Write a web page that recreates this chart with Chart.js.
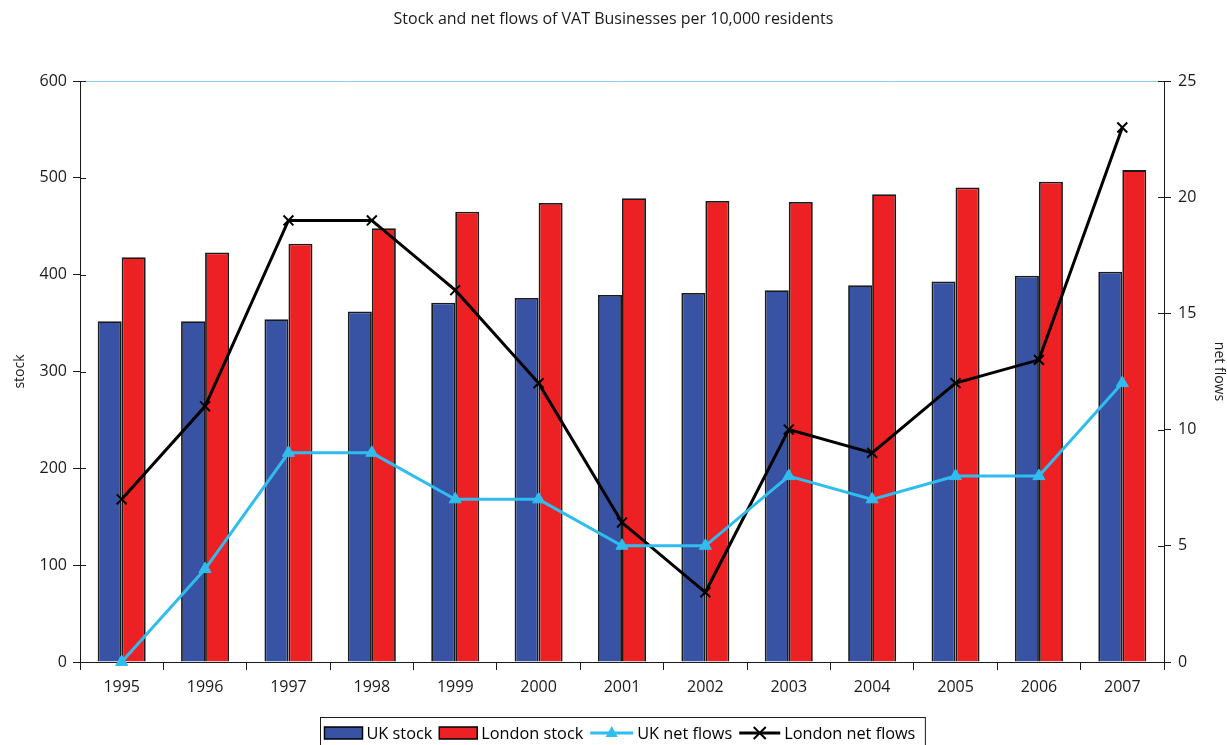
<!DOCTYPE html>
<html>
<head>
<meta charset="utf-8">
<script src="https://cdn.jsdelivr.net/npm/chart.js@4/dist/chart.umd.min.js"></script>
<style>
  html, body { margin: 0; padding: 0; background: #fff; }
  #wrap { width: 1227px; height: 745px; }
</style>
</head>
<body>
<div id="wrap"><canvas id="vat-chart"></canvas></div>
<script>
const years = ['1995', '1996', '1997', '1998', '1999', '2000', '2001', '2002', '2003', '2004', '2005', '2006', '2007'];
const ukStock = [352, 352, 354, 362, 371, 376, 379, 381, 384, 389, 393, 399, 403];
const londonStock = [418, 423, 432, 448, 465, 474, 479, 476, 475, 483, 490, 496, 508];
const ukNetFlows = [0, 4, 9, 9, 7, 7, 5, 5, 8, 7, 8, 8, 12];
const londonNetFlows = [7, 11, 19, 19, 16, 12, 6, 3, 10, 9, 12, 13, 23];

const BLUE = '#3953a4';
const RED = '#ed2024';
const CYAN = '#2fbdef';
const INK = '#1a1a1a';
const FONT = "'Open Sans', 'DejaVu Sans', sans-serif";

// tick marks that cross both value axes
const crossTicks = {
  id: 'crossTicks',
  afterDraw(chart) {
    const ctx = chart.ctx;
    ctx.save();
    ctx.strokeStyle = INK;
    ctx.lineWidth = 1;
    ['y', 'y1'].forEach((id) => {
      const scale = chart.scales[id];
      const x = id === 'y' ? scale.right : scale.left;
      const dir = id === 'y' ? 1 : -1;
      scale.ticks.forEach((t) => {
        const py = Math.round(scale.getPixelForValue(t.value)) + 0.5;
        ctx.beginPath();
        ctx.moveTo(x, py);
        ctx.lineTo(x + dir * 6, py);
        ctx.stroke();
      });
    });
    ctx.restore();
  },
};

// boxed legend under the axis
const boxLegend = {
  id: 'boxLegend',
  afterDraw(chart) {
    const ctx = chart.ctx;
    const items = [
      { label: 'UK stock', kind: 'box', color: BLUE, sw: 38 },
      { label: 'London stock', kind: 'box', color: RED, sw: 38 },
      { label: 'UK net flows', kind: 'tri', color: CYAN, sw: 43 },
      { label: 'London net flows', kind: 'cross', color: '#000', sw: 41 },
    ];
    ctx.save();
    ctx.font = '16.3px ' + FONT;
    const gap = 4;
    const itemGap = 7;
    let total = 0;
    items.forEach((it) => {
      it.w = ctx.measureText(it.label).width;
      total += it.sw + gap + it.w;
    });
    total += itemGap * (items.length - 1) + 14;
    const cx = 622.5;
    const left = Math.round(cx - total / 2) + 0.5;
    const top = 717.5;
    ctx.strokeStyle = INK;
    ctx.lineWidth = 1;
    ctx.strokeRect(left, top, total, 40);

    const midY = 733;
    let x = left + 4;
    items.forEach((it) => {
      if (it.kind === 'box') {
        ctx.fillStyle = it.color;
        ctx.fillRect(x, midY - 6, it.sw, 12);
        ctx.strokeStyle = '#000';
        ctx.lineWidth = 1.5;
        ctx.strokeRect(x, midY - 6, it.sw, 12);
      } else {
        ctx.strokeStyle = it.color;
        ctx.lineWidth = 3;
        ctx.beginPath();
        ctx.moveTo(x, midY);
        ctx.lineTo(x + it.sw, midY);
        ctx.stroke();
        const mx = x + it.sw / 2;
        if (it.kind === 'tri') {
          ctx.fillStyle = it.color;
          ctx.beginPath();
          ctx.moveTo(mx, midY - 7);
          ctx.lineTo(mx + 6, midY + 4);
          ctx.lineTo(mx - 6, midY + 4);
          ctx.closePath();
          ctx.fill();
        } else {
          ctx.lineWidth = 2;
          ctx.beginPath();
          ctx.moveTo(mx - 6, midY - 6);
          ctx.lineTo(mx + 6, midY + 6);
          ctx.moveTo(mx + 6, midY - 6);
          ctx.lineTo(mx - 6, midY + 6);
          ctx.stroke();
        }
      }
      x += it.sw + gap;
      ctx.fillStyle = '#000';
      ctx.textBaseline = 'middle';
      ctx.textAlign = 'left';
      ctx.fillText(it.label, x, midY + 1);
      x += it.w + itemGap;
    });
    ctx.restore();
  },
};

new Chart(document.getElementById('vat-chart'), {
  data: {
    labels: years,
    datasets: [
      {
        type: 'line',
        label: 'UK net flows',
        data: ukNetFlows,
        yAxisID: 'y1',
        borderColor: CYAN,
        backgroundColor: CYAN,
        borderWidth: 3,
        pointStyle: 'triangle',
        pointRadius: 7,
        pointBorderWidth: 1,
        tension: 0,
        clip: false,
        order: 0,
      },
      {
        type: 'line',
        label: 'London net flows',
        data: londonNetFlows,
        yAxisID: 'y1',
        borderColor: '#000',
        backgroundColor: '#000',
        borderWidth: 3,
        pointStyle: 'crossRot',
        pointRadius: 7,
        pointBorderWidth: 2,
        tension: 0,
        clip: false,
        order: 0,
      },
      {
        type: 'bar',
        label: 'UK stock',
        data: ukStock,
        yAxisID: 'y',
        backgroundColor: BLUE,
        borderColor: INK,
        borderWidth: 1.8,
        categoryPercentage: 0.576,
        barPercentage: 1,
        order: 1,
      },
      {
        type: 'bar',
        label: 'London stock',
        data: londonStock,
        yAxisID: 'y',
        backgroundColor: RED,
        borderColor: INK,
        borderWidth: 1.8,
        categoryPercentage: 0.576,
        barPercentage: 1,
        order: 1,
      },
    ],
  },
  options: {
    responsive: true,
    maintainAspectRatio: false,
    animation: false,
    layout: { padding: 0 },
    plugins: {
      legend: { display: false },
      tooltip: { enabled: false },
      title: {
        display: true,
        text: 'Stock and net flows of VAT Businesses per 10,000 residents',
        color: INK,
        font: { family: FONT, size: 16, weight: 'normal', lineHeight: 1.2 },
        padding: { top: 10, bottom: 51.8 },
      },
    },
    scales: {
      x: {
        afterFit: (s) => { s.height = 83; },
        grid: { drawOnChartArea: false, tickColor: INK, tickLength: 8, offset: true },
        border: { color: INK, width: 1 },
        ticks: { color: INK, padding: 8, font: { family: FONT, size: 16 } },
      },
      y: {
        position: 'left',
        min: 0,
        max: 600,
        afterFit: (s) => { s.width = 80; },
        grid: {
          color: (c) => (c.tick && c.tick.value === 600 ? '#8fcdf0' : 'rgba(0,0,0,0)'),
          tickColor: INK,
          tickLength: 7,
        },
        border: { color: INK, width: 1 },
        ticks: { stepSize: 100, color: INK, padding: 6, font: { family: FONT, size: 16 } },
        title: {
          display: true,
          text: 'stock',
          color: INK,
          font: { family: FONT, size: 14 },
          padding: { top: 12, bottom: 0 },
        },
      },
      y1: {
        position: 'right',
        min: 0,
        max: 25,
        afterFit: (s) => { s.width = 63; },
        grid: { drawOnChartArea: false, tickColor: INK, tickLength: 7 },
        border: { color: INK, width: 1 },
        ticks: { stepSize: 5, color: INK, padding: 7, font: { family: FONT, size: 16 } },
        title: {
          display: true,
          text: 'net flows',
          color: INK,
          font: { family: FONT, size: 14 },
          padding: { top: 0, bottom: 0 },
        },
      },
    },
  },
  plugins: [crossTicks, boxLegend],
});
</script>
</body>
</html>
